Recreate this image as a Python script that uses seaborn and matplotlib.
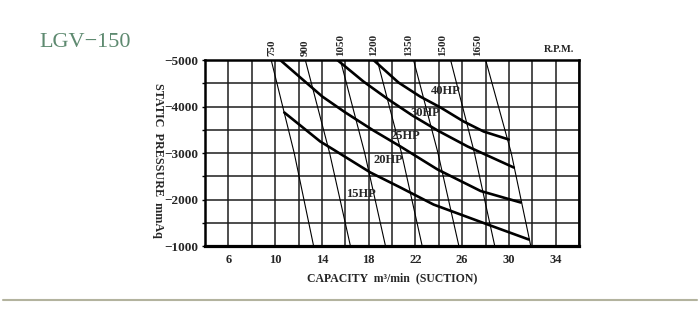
import matplotlib
matplotlib.use("Agg")
import matplotlib.pyplot as plt
from matplotlib.lines import Line2D
from matplotlib.ticker import MultipleLocator
import pandas as pd
import seaborn as sns

# Constant-speed lines: capacity (m3/min) at -5000, -3000 and -1000 mmAq
rpm_speeds = [750, 900, 1050, 1200, 1350, 1500, 1650]
rpm_pressure = [-5000, -3000, -1000]
rpm_capacity = [
    [9.66, 11.63, 13.29],
    [12.58, 14.66, 16.44],
    [15.58, 17.66, 19.44],
    [18.73, 20.81, 22.58],
    [21.84, 23.93, 25.72],
    [25.01, 27.05, 28.79],
    [28.01, 30.20, 31.87],
]
rpm_label_capacity = [9.72, 12.58, 15.58, 18.41, 21.41, 24.30, 27.30]

# Motor power curves
hp_names = ["40HP", "30HP", "25HP", "20HP"]
hp40_capacity = [18.41, 20.55, 22.40, 24.15, 26.13, 27.84, 29.99]
hp40_pressure = [-5000, -4516, -4215, -3979, -3677, -3462, -3290]
hp30_capacity = [15.32, 17.55, 19.69, 21.75, 23.90, 26.47, 30.42]
hp30_pressure = [-5000, -4538, -4151, -3806, -3484, -3140, -2688]
hp25_capacity = [10.43, 12.15, 14.03, 16.01, 18.41, 20.72, 23.90, 27.58, 31.02]
hp25_pressure = [-5000, -4624, -4215, -3871, -3484, -3140, -2645, -2183, -1935]
hp20_capacity = [10.78, 13.86, 14.98, 18.15, 20.72, 23.55, 28.19, 31.70]
hp20_pressure = [-3871, -3247, -3075, -2581, -2258, -1892, -1462, -1140]

hp_label_text = ["40HP", "30HP", "25HP", "20HP", "15HP"]
hp_label_capacity = [24.58, 22.87, 21.15, 19.70, 17.38]
hp_label_pressure = [-4323, -3871, -3376, -2839, -2108]

x_ticks = [6, 10, 14, 18, 22, 26, 30, 34]
y_ticks = [-5000, -4000, -3000, -2000, -1000]
y_tick_labels = ["\u22125000", "\u22124000", "\u22123000", "\u22122000", "\u22121000"]

sns.set_style("white")
plt.rcParams["font.family"] = ["Liberation Serif", "DejaVu Serif"]
plt.rcParams["font.weight"] = "bold"
plt.rcParams["axes.labelweight"] = "bold"

rpm_df = pd.DataFrame(
    [
        {"rpm": spd, "capacity": c, "pressure": p}
        for spd, caps in zip(rpm_speeds, rpm_capacity)
        for c, p in zip(caps, rpm_pressure)
    ]
)
hp_df = pd.concat(
    [
        pd.DataFrame({"hp": name, "capacity": caps, "pressure": pres})
        for name, caps, pres in zip(
            hp_names,
            [hp40_capacity, hp30_capacity, hp25_capacity, hp20_capacity],
            [hp40_pressure, hp30_pressure, hp25_pressure, hp20_pressure],
        )
    ],
    ignore_index=True,
)

fig = plt.figure(figsize=(7, 3.24), dpi=100)
ax = fig.add_axes([0.2929, 0.2407, 0.5343, 0.5741])

sns.lineplot(data=rpm_df, x="capacity", y="pressure", units="rpm",
             estimator=None, sort=False, color="black", lw=0.8,
             legend=False, ax=ax, zorder=3)
sns.lineplot(data=hp_df, x="capacity", y="pressure", units="hp",
             estimator=None, sort=False, color="black", lw=1.9,
             legend=False, ax=ax, zorder=4)

ax.set_xlim(4, 36)
ax.set_ylim(-1000, -5000)
ax.set_xticks(x_ticks)
ax.xaxis.set_minor_locator(MultipleLocator(2))
ax.set_yticks(y_ticks)
ax.set_yticklabels(y_tick_labels)
ax.yaxis.set_minor_locator(MultipleLocator(500))
ax.grid(which="both", color="#1c1c1c", lw=1.1, zorder=1)
ax.set_axisbelow(True)

for side in ["top", "right", "left", "bottom"]:
    ax.spines[side].set_visible(True)
    ax.spines[side].set_color("black")
    ax.spines[side].set_linewidth(1.8)
ax.spines["bottom"].set_linewidth(2.3)

ax.tick_params(axis="x", which="both", length=0, pad=6, labelsize=9)
ax.tick_params(axis="y", which="both", left=True, length=2.5, width=1,
               pad=2, labelsize=9.5, direction="out", color="black")

ax.set_xlabel("CAPACITY  m\u00b3/min  (SUCTION)", fontsize=8.5, labelpad=4)
ax.set_ylabel("STATIC  PRESSURE  mmAq", fontsize=8.7, rotation=270,
              va="center", ha="center")
ax.yaxis.set_label_coords(-0.1257, 0.462)

for spd, xc in zip(rpm_speeds, rpm_label_capacity):
    ax.annotate(str(spd), xy=(xc, -5000), xytext=(0, 3),
                textcoords="offset points", rotation=90, ha="center",
                va="bottom", fontsize=8, annotation_clip=False)

for t, xc, yc in zip(hp_label_text, hp_label_capacity, hp_label_pressure):
    ax.text(xc, yc, t, ha="center", va="center", fontsize=9, zorder=5)

fig.text(559 / 700, 1 - 50 / 324, "R.P.M.", ha="center", va="center",
         fontsize=7.5)
fig.text(0.0557, 0.855, "LGV\u2212150", fontsize=16, color="#5e8a70",
         fontweight="normal", ha="left", va="baseline")
fig.add_artist(Line2D([3 / 700, 697 / 700], [24 / 324, 24 / 324],
                      color="#b3b39e", lw=1.5))

fig.savefig("out.png", dpi=100)
